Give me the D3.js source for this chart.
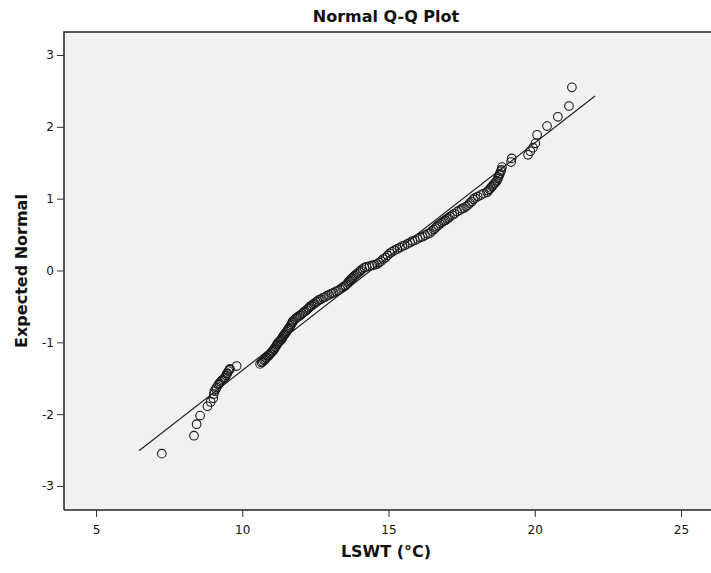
<!DOCTYPE html>
<html>
<head>
<meta charset="utf-8">
<title>Normal Q-Q Plot</title>
<script src="https://d3js.org/d3.v7.min.js"></script>
<style>
  body { margin: 0; background: #fff; }
  text { font-family: "DejaVu Sans", sans-serif; fill: #111; }
</style>
</head>
<body>
<div id="chart"></div>
<script>
// observed LSWT values (°C), sorted
var lswt = [7.25, 8.35, 8.44, 8.56, 8.81, 8.92, 9.01, 9.03, 9.05, 9.10,
  9.12, 9.18, 9.22, 9.26, 9.30, 9.34, 9.38, 9.41, 9.45, 9.47,
  9.49, 9.53, 9.56, 9.58, 9.81, 10.61, 10.66, 10.70, 10.74, 10.78,
  10.81, 10.84, 10.88, 10.92, 10.95, 10.98, 11.02, 11.05, 11.08, 11.10,
  11.13, 11.16, 11.19, 11.22, 11.26, 11.30, 11.33, 11.36, 11.38, 11.39,
  11.42, 11.45, 11.48, 11.52, 11.55, 11.58, 11.62, 11.65, 11.68, 11.70,
  11.72, 11.74, 11.80, 11.85, 11.90, 11.95, 12.00, 12.05, 12.10, 12.15,
  12.20, 12.25, 12.28, 12.32, 12.37, 12.42, 12.47, 12.52, 12.57, 12.62,
  12.69, 12.76, 12.83, 12.90, 12.97, 13.05, 13.12, 13.20, 13.28, 13.35,
  13.42, 13.48, 13.53, 13.58, 13.62, 13.65, 13.69, 13.72, 13.76, 13.80,
  13.85, 13.90, 13.95, 14.00, 14.05, 14.10, 14.18, 14.25, 14.35, 14.45,
  14.53, 14.61, 14.68, 14.75, 14.82, 14.90, 14.97, 15.05, 15.12, 15.20,
  15.30, 15.39, 15.47, 15.55, 15.65, 15.74, 15.82, 15.90, 16.00, 16.08,
  16.17, 16.25, 16.34, 16.42, 16.48, 16.55, 16.60, 16.65, 16.70, 16.76,
  16.83, 16.90, 16.95, 17.00, 17.05, 17.10, 17.18, 17.25, 17.35, 17.44,
  17.51, 17.58, 17.65, 17.72, 17.78, 17.85, 17.90, 17.96, 18.05, 18.15,
  18.25, 18.37, 18.41, 18.45, 18.50, 18.54, 18.58, 18.62, 18.66, 18.71,
  18.74, 18.76, 18.79, 18.81, 18.84, 18.86, 18.88, 19.19, 19.21, 19.77,
  19.85, 19.94, 20.02, 20.08, 20.42, 20.79, 21.17, 21.27];

// expected normal value of each observation
var expected = [-2.55, -2.30, -2.14, -2.02, -1.89, -1.83, -1.78, -1.72, -1.68, -1.65,
  -1.63, -1.59, -1.57, -1.55, -1.53, -1.52, -1.50, -1.49, -1.46, -1.44,
  -1.43, -1.40, -1.38, -1.37, -1.33, -1.30, -1.28, -1.27, -1.25, -1.24,
  -1.22, -1.21, -1.19, -1.18, -1.16, -1.15, -1.13, -1.12, -1.10, -1.09,
  -1.07, -1.05, -1.03, -1.01, -0.99, -0.98, -0.96, -0.95, -0.93, -0.92,
  -0.90, -0.89, -0.87, -0.85, -0.83, -0.81, -0.79, -0.77, -0.75, -0.73,
  -0.72, -0.70, -0.68, -0.66, -0.65, -0.63, -0.62, -0.60, -0.58, -0.57,
  -0.55, -0.53, -0.52, -0.50, -0.49, -0.47, -0.46, -0.44, -0.43, -0.41,
  -0.40, -0.38, -0.37, -0.35, -0.34, -0.32, -0.31, -0.29, -0.28, -0.26,
  -0.24, -0.22, -0.21, -0.19, -0.17, -0.15, -0.14, -0.12, -0.11, -0.09,
  -0.07, -0.05, -0.04, -0.02, 0.00, 0.02, 0.04, 0.05, 0.06, 0.07,
  0.08, 0.09, 0.11, 0.13, 0.16, 0.18, 0.21, 0.24, 0.26, 0.28,
  0.30, 0.32, 0.34, 0.35, 0.37, 0.39, 0.41, 0.42, 0.44, 0.46,
  0.47, 0.49, 0.51, 0.52, 0.55, 0.57, 0.59, 0.61, 0.63, 0.65,
  0.67, 0.69, 0.70, 0.72, 0.73, 0.75, 0.77, 0.79, 0.82, 0.84,
  0.86, 0.87, 0.89, 0.91, 0.94, 0.96, 0.99, 1.01, 1.03, 1.05,
  1.07, 1.09, 1.11, 1.13, 1.15, 1.17, 1.19, 1.21, 1.23, 1.25,
  1.28, 1.30, 1.33, 1.35, 1.38, 1.40, 1.44, 1.51, 1.56, 1.61,
  1.66, 1.71, 1.77, 1.89, 2.01, 2.14, 2.29, 2.55];

// reference line end points
var lineX = [6.47, 22.06];
var lineZ = [-2.51, 2.43];

var xTicks = [5, 10, 15, 20, 25];
var yTicks = [-3, -2, -1, 0, 1, 2, 3];

var width = 711, height = 573;
var plotLeft = 64, plotTop = 32, plotBottom = 510, plotRight = 711;

var svg = d3.select("#chart").append("svg")
  .attr("width", width)
  .attr("height", height);

var x = d3.scaleLinear().domain([5, 25]).range([96, 681]);
var y = d3.scaleLinear().domain([-3, 3]).range([486, 55]);

// plot background
svg.append("rect")
  .attr("x", plotLeft).attr("y", plotTop)
  .attr("width", plotRight - plotLeft).attr("height", plotBottom - plotTop)
  .attr("fill", "#f1f1f1");

// frame (left + top)
svg.append("path")
  .attr("d", "M" + plotLeft + "," + plotBottom + "V" + plotTop + "H" + plotRight)
  .attr("fill", "none").attr("stroke", "#222").attr("stroke-width", 1.5);

// axes
var xAxis = d3.axisBottom(x).tickValues(xTicks).tickSize(7).tickSizeOuter(0);
var gx = svg.append("g").attr("transform", "translate(0," + plotBottom + ")").call(xAxis);
gx.select(".domain").attr("d", "M" + plotLeft + ",0H" + plotRight).attr("stroke", "#222").attr("stroke-width", 1.5);
gx.selectAll(".tick line").attr("stroke", "#333");
gx.selectAll(".tick text").attr("dy", "1.15em").style("font-size", "12px");

// plain hyphen for negatives, as in the original
var yAxis = d3.axisLeft(y).tickValues(yTicks).tickFormat(function (d) { return String(d); })
  .tickSize(7).tickSizeOuter(0);
var gy = svg.append("g").attr("transform", "translate(" + plotLeft + ",0)").call(yAxis);
gy.select(".domain").remove();
gy.selectAll(".tick line").attr("stroke", "#333");
gy.selectAll(".tick text").attr("x", -10).style("font-size", "12px");

// reference line
svg.append("line")
  .attr("x1", x(lineX[0])).attr("y1", y(lineZ[0]))
  .attr("x2", x(lineX[1])).attr("y2", y(lineZ[1]))
  .attr("stroke", "#222").attr("stroke-width", 1.2);

// points
svg.append("g")
  .selectAll("circle")
  .data(lswt)
  .enter()
  .append("circle")
  .attr("cx", function (d) { return x(d); })
  .attr("cy", function (d, i) { return y(expected[i]); })
  .attr("r", 4.3)
  .attr("fill", "none")
  .attr("stroke", "#1a1a1a")
  .attr("stroke-width", 1.1);

// titles
svg.append("text")
  .attr("x", 386).attr("y", 22)
  .attr("text-anchor", "middle")
  .style("font-size", "16px").style("font-weight", "bold")
  .text("Normal Q-Q Plot");

svg.append("text")
  .attr("x", 386).attr("y", 557)
  .attr("text-anchor", "middle")
  .style("font-size", "16px").style("font-weight", "bold")
  .text("LSWT (°C)");

svg.append("text")
  .attr("transform", "translate(27,271) rotate(-90)")
  .attr("text-anchor", "middle")
  .style("font-size", "16px").style("font-weight", "bold")
  .text("Expected Normal");
</script>
</body>
</html>
